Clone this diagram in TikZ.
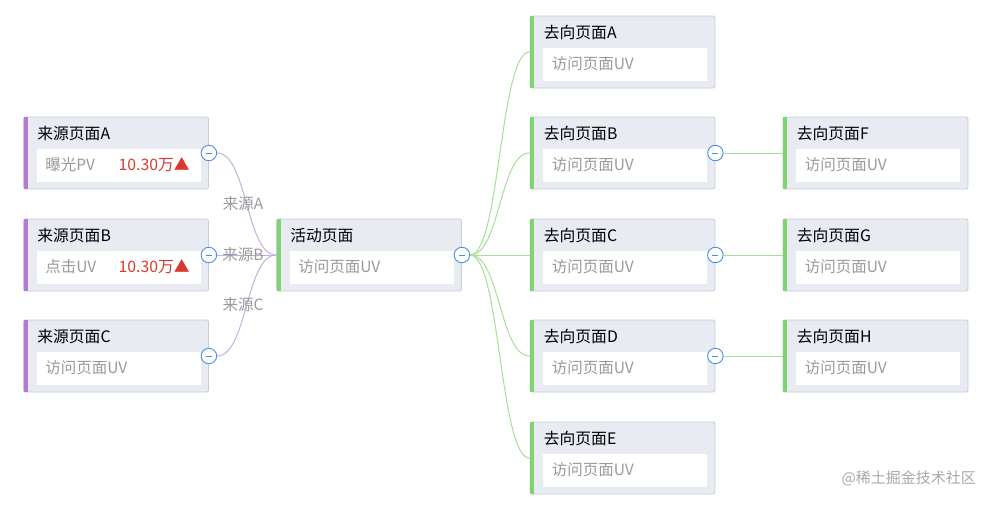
\documentclass[tikz,border=0pt]{standalone}
\usepackage{fontspec}
\setmainfont{Noto Sans CJK SC}
\usetikzlibrary{backgrounds}
\definecolor{boxfill}{HTML}{E8EBF2}
\definecolor{boxline}{HTML}{C6CADB}
\definecolor{purp}{HTML}{B47AD6}
\definecolor{purpline}{HTML}{C8AEE6}
\definecolor{grn}{HTML}{7ED46E}
\definecolor{grnline}{HTML}{A6E096}
\definecolor{btn}{HTML}{4A90E2}
\definecolor{greytext}{HTML}{9A9A9A}
\definecolor{redval}{HTML}{D93A30}
\tikzset{
  card/.style={draw=boxline, fill=boxfill, rounded corners=2pt, line width=0.8pt,
    minimum width=185pt, minimum height=72pt, inner sep=0pt},
  inner/.style={fill=white, draw=none, minimum width=164pt, minimum height=33pt, inner sep=0pt},
  ttl/.style={anchor=west, inner sep=0pt, font=\fontsize{15.8}{17}\selectfont, text=black},
  bodytxt/.style={anchor=west, inner sep=0pt, font=\fontsize{15.5}{17}\selectfont, text=greytext},
  valtxt/.style={anchor=east, inner sep=0pt, font=\fontsize{15.8}{17}\selectfont, text=redval},
  btnc/.style={circle, draw=btn, fill=white, line width=0.9pt, minimum size=15.5pt, inner sep=0pt},
  srclbl/.style={inner sep=0pt, font=\fontsize{15.5}{17}\selectfont, text=greytext},
  pl/.style={draw=purpline, line width=1pt},
  gl/.style={draw=grnline, line width=1pt}
}
% #1 name, #2 center x, #3 center y, #4 stripe colour, #5 title, #6 body
\newcommand\mycard[6]{%
  \node[card] (#1) at (#2,#3) {};
  \fill[#4] ([xshift=0.4pt,yshift=-0.4pt]#1.north west) rectangle ([xshift=4.8pt,yshift=0.4pt]#1.south west);
  \node[inner] (#1in) at ([xshift=2.5pt,yshift=-12.5pt]#1.center) {};
  \node[ttl] (#1t) at ([xshift=14pt,yshift=-16.5pt]#1.north west) {#5};
  \node[bodytxt] (#1b) at ([xshift=22pt,yshift=-48.5pt]#1.north west) {#6};
}
\newcommand\mybtn[2]{%
  \node[btnc] (#1) at (#2) {};
  \draw[btn, line width=0.9pt] ([xshift=-3pt]#1.center) -- ([xshift=3pt]#1.center);
}
\begin{document}
\begin{tikzpicture}[x=1pt,y=-1pt]
\useasboundingbox (0,0) rectangle (993,504);
% left cards
\mycard{la}{116}{153}{purp}{来源页面A}{曝光PV}
\node[valtxt] (lav) at ([xshift=-19pt,yshift=-48.5pt]la.north east) {10.30万▲};
\mycard{lb}{116}{255}{purp}{来源页面B}{点击UV}
\node[valtxt] (lbv) at ([xshift=-19pt,yshift=-48.5pt]lb.north east) {10.30万▲};
\mycard{lc}{116}{356}{purp}{来源页面C}{访问页面UV}
% center
\mycard{act}{369}{255}{grn}{活动页面}{访问页面UV}
% right column 1
\mycard{ra}{622.5}{52}{grn}{去向页面A}{访问页面UV}
\mycard{rb}{622.5}{153}{grn}{去向页面B}{访问页面UV}
\mycard{rc}{622.5}{255}{grn}{去向页面C}{访问页面UV}
\mycard{rd}{622.5}{356}{grn}{去向页面D}{访问页面UV}
\mycard{re}{622.5}{458}{grn}{去向页面E}{访问页面UV}
% right column 2
\mycard{rf}{875.5}{153}{grn}{去向页面F}{访问页面UV}
\mycard{rg}{875.5}{255}{grn}{去向页面G}{访问页面UV}
\mycard{rh}{875.5}{356}{grn}{去向页面H}{访问页面UV}
% buttons
\mybtn{ba}{la.east}
\mybtn{bb}{lb.east}
\mybtn{bc}{lc.east}
\mybtn{bact}{act.east}
\mybtn{brb}{rb.east}
\mybtn{brc}{rc.east}
\mybtn{brd}{rd.east}
% connectors
\begin{scope}[on background layer]
\fill[white] (0,0) rectangle (993,504);
\draw[pl] (ba.east) .. controls +(30,0) and +(-30,0) .. (act.west);
\draw[pl] (bb.east) -- (act.west);
\draw[pl] (bc.east) .. controls +(30,0) and +(-30,0) .. (act.west);
\foreach \t in {ra,rb,rd,re}
  \draw[gl] (bact.east) .. controls +(30,0) and +(-30,0) .. (\t.west);
\draw[gl] (bact.east) -- (rc.west);
\draw[gl] (brb.east) -- (rf.west);
\draw[gl] (brc.east) -- (rg.west);
\draw[gl] (brd.east) -- (rh.west);
\end{scope}
% source labels
\node[srclbl] (sa) at (243,204) {来源A};
\node[srclbl] (sb) at (243,255) {来源B};
\node[srclbl] (sc) at (243,305) {来源C};
% watermark
\node[anchor=east, inner sep=0pt, font=\fontsize{15}{17}\selectfont, text=greytext!85] (wm) at (976,478) {@稀土掘金技术社区};
\end{tikzpicture}
\end{document}
